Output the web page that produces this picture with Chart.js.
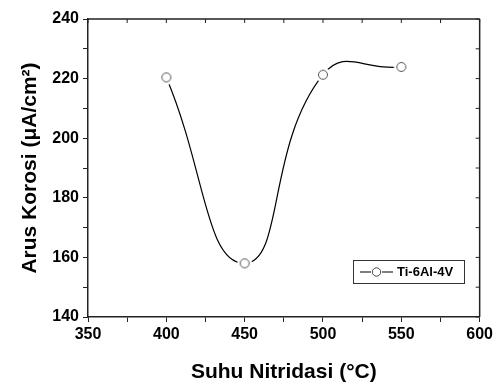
<!DOCTYPE html>
<html>
<head>
<meta charset="utf-8">
<script src="https://cdn.jsdelivr.net/npm/chart.js@4"></script>
<style>
  html, body { margin: 0; padding: 0; background: #fff; }
  #wrap { width: 496px; height: 385px; }
</style>
</head>
<body>
<div id="wrap"><canvas id="chart" width="496" height="385"></canvas></div>
<script>
const temps = [400, 450, 500, 550];
const current = [220.4, 158.0, 221.3, 223.9];
const seriesLabel = "Ti-6Al-4V";
const xTitle = "Suhu Nitridasi (°C)";
const yTitle = "Arus Korosi (μA/cm²)";

const FONT = "'Liberation Sans', Arial, sans-serif";
const ctx = document.getElementById("chart").getContext("2d");

// open circle with a white halo so the line stops short of the marker
function makeMarker() {
  const c = document.createElement("canvas");
  c.width = 18; c.height = 18;
  const g = c.getContext("2d");
  g.fillStyle = "#fff";
  g.beginPath(); g.arc(9, 9, 7.5, 0, Math.PI * 2); g.fill();
  g.strokeStyle = "#555";
  g.lineWidth = 1;
  g.beginPath(); g.arc(9, 9, 4.5, 0, Math.PI * 2); g.stroke();
  return c;
}
const marker = makeMarker();

// top/right mirrored ticks + frame, and the boxed legend inside the plot
const framePlugin = {
  id: "frame",
  afterDraw(chart) {
    const { ctx, chartArea: a, scales } = chart;
    ctx.save();
    ctx.strokeStyle = "#222";
    ctx.lineWidth = 1.5;
    ctx.beginPath();
    ctx.moveTo(a.left, a.top); ctx.lineTo(a.right, a.top);
    ctx.moveTo(a.right, a.top); ctx.lineTo(a.right, a.bottom);
    ctx.stroke();
    ctx.lineWidth = 1;
    ctx.beginPath();
    scales.x.ticks.forEach(t => {
      const px = scales.x.getPixelForValue(t.value);
      ctx.moveTo(px, a.top); ctx.lineTo(px, a.top + 4);
    });
    scales.y.ticks.forEach(t => {
      const py = scales.y.getPixelForValue(t.value);
      ctx.moveTo(a.right, py); ctx.lineTo(a.right - 4, py);
    });
    ctx.stroke();

    // legend box
    const bx = a.left + 265, by = a.top + 241, bw = 111, bh = 23;
    ctx.lineWidth = 1;
    ctx.strokeStyle = "#333";
    ctx.strokeRect(bx + 0.5, by + 0.5, bw, bh);
    const cy = by + bh / 2 + 0.5;
    ctx.strokeStyle = "#000";
    ctx.lineWidth = 1.2;
    ctx.beginPath();
    ctx.moveTo(bx + 7, cy); ctx.lineTo(bx + 18, cy);
    ctx.moveTo(bx + 29, cy); ctx.lineTo(bx + 40, cy);
    ctx.stroke();
    ctx.strokeStyle = "#444";
    ctx.lineWidth = 1;
    ctx.beginPath();
    ctx.arc(bx + 23.5, cy, 4.2, 0, Math.PI * 2);
    ctx.stroke();
    ctx.fillStyle = "#000";
    ctx.font = "bold 13px " + FONT;
    ctx.textBaseline = "middle";
    ctx.fillText(chart.data.datasets[0].label, bx + 44, cy + 0.5);
    ctx.restore();
  }
};

new Chart(ctx, {
  type: "line",
  data: {
    datasets: [{
      label: seriesLabel,
      data: temps.map((t, i) => ({ x: t, y: current[i] })),
      borderColor: "#000",
      borderWidth: 1.2,
      tension: 0.5,
      pointStyle: marker,
      pointRadius: 5,
      clip: false
    }]
  },
  options: {
    responsive: false,
    animation: false,
    layout: { padding: { top: 19, right: 13, left: 0, bottom: 0 } },
    plugins: { legend: { display: false }, tooltip: { enabled: false } },
    scales: {
      x: {
        type: "linear",
        min: 350, max: 600,
        afterFit(s) { s.height = 68; },
        border: { color: "#222", width: 1.5 },
        grid: { drawOnChartArea: false, tickLength: 5, color: "#222" },
        ticks: {
          stepSize: 25,
          padding: 3,
          color: "#000",
          font: { family: FONT, size: 16, weight: "bold" },
          callback: v => (v % 50 === 0 ? v : "")
        },
        title: {
          display: true,
          text: xTitle,
          color: "#000",
          font: { family: FONT, size: 21, weight: "bold" },
          padding: { top: 4, bottom: 0 }
        }
      },
      y: {
        min: 140, max: 240,
        afterFit(s) { s.width = 88; },
        border: { color: "#222", width: 1.5 },
        grid: { drawOnChartArea: false, tickLength: 5, color: "#222" },
        ticks: {
          stepSize: 10,
          padding: 4,
          color: "#000",
          font: { family: FONT, size: 16, weight: "bold" },
          callback: v => (v % 20 === 0 ? v : "")
        },
        title: {
          display: true,
          text: yTitle,
          color: "#000",
          font: { family: FONT, size: 21, weight: "bold" },
          padding: { top: 18, bottom: 0 }
        }
      }
    }
  },
  plugins: [framePlugin]
});
</script>
</body>
</html>
